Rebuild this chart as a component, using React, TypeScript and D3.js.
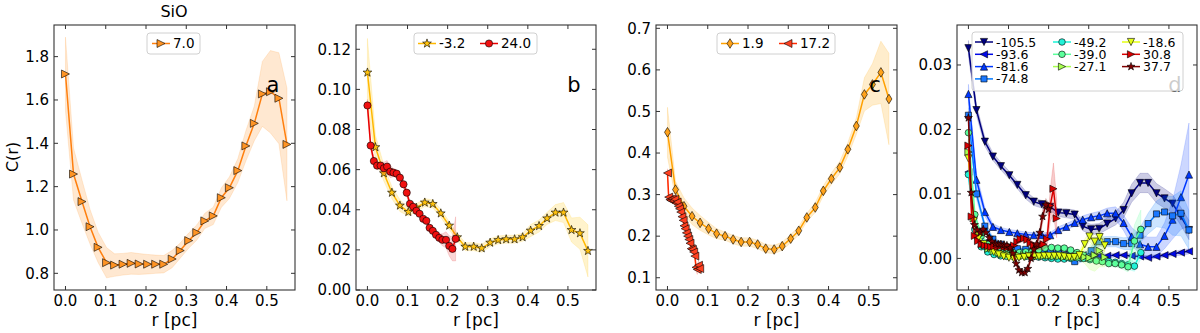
import React from 'react';
import * as d3 from 'd3';

// radius grids (pc)
const r055 = [0, 0.020, 0.041, 0.061, 0.081, 0.102, 0.122, 0.143, 0.163, 0.183, 0.204, 0.224, 0.244, 0.265, 0.285, 0.306, 0.326, 0.346, 0.367, 0.387, 0.407, 0.428, 0.448, 0.469, 0.489, 0.509, 0.530, 0.550];
const r043 = [0, 0.016, 0.032, 0.048, 0.064, 0.080, 0.096, 0.111, 0.127, 0.143, 0.159, 0.175, 0.191, 0.207, 0.223, 0.239, 0.255, 0.271, 0.287, 0.303, 0.319, 0.334, 0.350, 0.366, 0.382, 0.398, 0.414, 0.430];
const r034 = [0, 0.013, 0.025, 0.038, 0.050, 0.063, 0.076, 0.088, 0.101, 0.113, 0.126, 0.139, 0.151, 0.164, 0.176, 0.189, 0.201, 0.214, 0.227, 0.239, 0.252, 0.264, 0.277, 0.290, 0.302, 0.315, 0.327, 0.340];
const r022 = [0, 0.008, 0.016, 0.024, 0.033, 0.041, 0.049, 0.057, 0.065, 0.073, 0.081, 0.090, 0.098, 0.106, 0.114, 0.122, 0.130, 0.139, 0.147, 0.155, 0.163, 0.171, 0.179, 0.187, 0.196, 0.204, 0.212, 0.220];
const r020 = [0, 0.007, 0.015, 0.022, 0.030, 0.037, 0.044, 0.052, 0.059, 0.067, 0.074, 0.081, 0.089, 0.096, 0.104, 0.111, 0.119, 0.126, 0.133, 0.141, 0.148, 0.156, 0.163, 0.170, 0.178, 0.185, 0.193, 0.200];
const r008 = [0, 0.003, 0.006, 0.009, 0.012, 0.015, 0.018, 0.021, 0.024, 0.027, 0.030, 0.033, 0.036, 0.039, 0.041, 0.044, 0.047, 0.050, 0.053, 0.056, 0.059, 0.062, 0.065, 0.068, 0.071, 0.074, 0.077, 0.080];

// panel a: SiO 7.0
const a70 = [1.720, 1.258, 1.131, 1.015, 0.920, 0.849, 0.838, 0.842, 0.846, 0.843, 0.842, 0.842, 0.842, 0.866, 0.905, 0.951, 0.988, 1.042, 1.065, 1.149, 1.195, 1.274, 1.388, 1.492, 1.628, 1.638, 1.608, 1.395];
const a70err = [0.17, 0.12, 0.10, 0.08, 0.07, 0.07, 0.052, 0.05, 0.05, 0.048, 0.045, 0.042, 0.04, 0.04, 0.035, 0.035, 0.035, 0.035, 0.04, 0.045, 0.05, 0.055, 0.07, 0.08, 0.15, 0.19, 0.21, 0.26];

// panel b
const bM32 = [0.1084, 0.0712, 0.0582, 0.0485, 0.0421, 0.0389, 0.0410, 0.0436, 0.0429, 0.0382, 0.0321, 0.0263, 0.0216, 0.0216, 0.0208, 0.0236, 0.0249, 0.0253, 0.0253, 0.0263, 0.0296, 0.0319, 0.0357, 0.0386, 0.0386, 0.0299, 0.0283, 0.0195];
const bM32err = [0.017, 0.006, 0.004, 0.003, 0.003, 0.002, 0.002, 0.002, 0.002, 0.002, 0.002, 0.002, 0.002, 0.002, 0.002, 0.002, 0.002, 0.002, 0.002, 0.002, 0.003, 0.003, 0.003, 0.004, 0.005, 0.006, 0.008, 0.013];
const b240 = [0.092, 0.072, 0.0643, 0.062, 0.062, 0.0607, 0.0615, 0.059, 0.0585, 0.058, 0.056, 0.0527, 0.0485, 0.043, 0.0415, 0.0395, 0.038, 0.0355, 0.0345, 0.031, 0.0295, 0.0275, 0.026, 0.025, 0.025, 0.022, 0.0205, 0.0255];
const b240err = [0.003, 0.002, 0.002, 0.002, 0.002, 0.003, 0.003, 0.003, 0.002, 0.002, 0.002, 0.002, 0.002, 0.001, 0.001, 0.001, 0.001, 0.001, 0.001, 0.002, 0.002, 0.002, 0.002, 0.003, 0.004, 0.005, 0.006, 0.011];

// panel c
const c19 = [0.450, 0.312, 0.272, 0.248, 0.232, 0.218, 0.206, 0.200, 0.192, 0.186, 0.186, 0.180, 0.170, 0.168, 0.176, 0.194, 0.213, 0.245, 0.269, 0.309, 0.338, 0.365, 0.409, 0.465, 0.541, 0.565, 0.594, 0.530];
const c19err = [0.06, 0.02, 0.02, 0.02, 0.018, 0.015, 0.012, 0.01, 0.01, 0.01, 0.01, 0.01, 0.01, 0.01, 0.01, 0.01, 0.01, 0.01, 0.012, 0.012, 0.014, 0.015, 0.016, 0.02, 0.04, 0.05, 0.075, 0.11];
const c172 = [0.352, 0.294, 0.288, 0.286, 0.290, 0.285, 0.289, 0.280, 0.282, 0.272, 0.266, 0.258, 0.247, 0.238, 0.225, 0.218, 0.208, 0.200, 0.192, 0.183, 0.170, 0.168, 0.162, 0.152, 0.125, 0.120, 0.130, 0.122];
const c172err = [0.01, 0.008, 0.006, 0.006, 0.006, 0.006, 0.006, 0.006, 0.006, 0.006, 0.006, 0.006, 0.006, 0.006, 0.006, 0.006, 0.006, 0.006, 0.006, 0.007, 0.007, 0.008, 0.008, 0.009, 0.01, 0.012, 0.012, 0.012];

// panel d
const dN1055 = [0.0326, 0.0230, 0.0181, 0.0158, 0.0143, 0.0129, 0.0114, 0.0098, 0.0088, 0.0084, 0.0080, 0.0071, 0.0070, 0.0068, 0.0050, 0.0045, 0.0046, 0.0054, 0.0062, 0.0075, 0.0101, 0.0117, 0.0117, 0.0101, 0.0093, 0.0085, 0.0065, 0.0044];
const dN1055err = [0.0012, 0.0008, 0.0007, 0.0006, 0.0006, 0.0006, 0.0006, 0.0006, 0.0006, 0.0006, 0.0006, 0.0006, 0.0007, 0.0007, 0.0007, 0.0008, 0.0008, 0.0009, 0.0010, 0.0012, 0.0014, 0.0015, 0.0015, 0.0015, 0.0015, 0.0014, 0.0014, 0.0015];
const dN936 = [0.0134, 0.0040, 0.0025, 0.0018, 0.0014, 0.0012, 0.0011, 0.0010, 0.0010, 0.0011, 0.0010, 0.0009, 0.0008, 0.0006, 0.0005, 0.0004, 0.0004, 0.0004, 0.0005, 0.0005, 0.0004, 0.0003, 0.0001, 0.0003, 0.0005, 0.0007, 0.0009, 0.0011];
const dN936err = [0.0010, 0.0005, 0.0004, 0.0003, 0.0003, 0.0003, 0.0003, 0.0003, 0.0003, 0.0003, 0.0003, 0.0003, 0.0003, 0.0003, 0.0003, 0.0003, 0.0003, 0.0003, 0.0003, 0.0003, 0.0003, 0.0003, 0.0003, 0.0003, 0.0003, 0.0003, 0.0004, 0.0004];
const dN816 = [0.0255, 0.0122, 0.0072, 0.0049, 0.0044, 0.0041, 0.0039, 0.0037, 0.0036, 0.0036, 0.0036, 0.0044, 0.0049, 0.0055, 0.0060, 0.0064, 0.0066, 0.0070, 0.0070, 0.0055, 0.0034, 0.0022, 0.0018, 0.0018, 0.0035, 0.0060, 0.0095, 0.0130];
const dN816err = [0.0015, 0.0010, 0.0007, 0.0005, 0.0004, 0.0004, 0.0004, 0.0004, 0.0004, 0.0004, 0.0004, 0.0005, 0.0005, 0.0005, 0.0006, 0.0006, 0.0007, 0.0008, 0.0010, 0.0012, 0.0014, 0.0015, 0.0015, 0.0015, 0.0020, 0.0030, 0.0050, 0.0080];
const dN748 = [0.0222, 0.0100, 0.0050, 0.0030, 0.0022, 0.0017, 0.0015, 0.0014, 0.0013, 0.0012, 0.0010, 0.0008, 0.0005, -0.0005, 0.0000, 0.0012, 0.0026, 0.0026, 0.0026, 0.0023, 0.0023, 0.0036, 0.0054, 0.0069, 0.0072, 0.0066, 0.0070, 0.0044];
const dN748err = [0.0012, 0.0008, 0.0005, 0.0004, 0.0004, 0.0004, 0.0004, 0.0004, 0.0004, 0.0004, 0.0004, 0.0004, 0.0004, 0.0005, 0.0005, 0.0006, 0.0007, 0.0008, 0.0008, 0.0009, 0.0010, 0.0012, 0.0016, 0.0020, 0.0025, 0.0030, 0.0035, 0.0030];
const dN492 = [0.0130, 0.0045, 0.0018, 0.0010, 0.0006, 0.0004, 0.0003, 0.0003, 0.0003, 0.0003, 0.0002, 0.0002, 0.0001, 0.0000, -0.0001, -0.0001, 0.0000, 0.0001, 0.0000, -0.0002, -0.0003, -0.0004, -0.0005, -0.0006, -0.0008, -0.0010, -0.0012, 0.0009];
const dN492err = [0.0010, 0.0005, 0.0003, 0.0003, 0.0003, 0.0003, 0.0003, 0.0003, 0.0003, 0.0003, 0.0003, 0.0003, 0.0003, 0.0003, 0.0003, 0.0003, 0.0003, 0.0003, 0.0003, 0.0004, 0.0004, 0.0004, 0.0005, 0.0005, 0.0006, 0.0007, 0.0008, 0.0010];
const dN390 = [0.0195, 0.0068, 0.0035, 0.0022, 0.0016, 0.0012, 0.0010, 0.0009, 0.0009, 0.0010, 0.0011, 0.0013, 0.0016, 0.0017, 0.0016, 0.0016, 0.0013, 0.0009, 0.0005, 0.0000, -0.0004, -0.0005, -0.0008, -0.0008, -0.0010, -0.0013, 0.0027, 0.0045];
const dN390err = [0.0012, 0.0006, 0.0004, 0.0003, 0.0003, 0.0003, 0.0003, 0.0003, 0.0003, 0.0003, 0.0003, 0.0003, 0.0003, 0.0003, 0.0003, 0.0003, 0.0003, 0.0003, 0.0003, 0.0003, 0.0003, 0.0004, 0.0005, 0.0005, 0.0006, 0.0008, 0.0025, 0.0030];
const dN271 = [0.0165, 0.0062, 0.0035, 0.0022, 0.0015, 0.0011, 0.0009, 0.0007, 0.0006, 0.0006, 0.0005, 0.0005, 0.0005, 0.0005, 0.0004, 0.0004, 0.0004, 0.0003, 0.0003, 0.0002, 0.0002, 0.0002, 0.0003, 0.0002, 0.0001, 0.0005, 0.0012, 0.0002];
const dN271err = [0.0010, 0.0005, 0.0003, 0.0003, 0.0003, 0.0003, 0.0003, 0.0003, 0.0003, 0.0003, 0.0003, 0.0003, 0.0003, 0.0003, 0.0003, 0.0003, 0.0003, 0.0003, 0.0003, 0.0003, 0.0003, 0.0004, 0.0006, 0.0010, 0.0018, 0.0025, 0.0025, 0.0015];
const dN186 = [0.0155, 0.0058, 0.0032, 0.0022, 0.0015, 0.0010, 0.0006, 0.0003, 0.0001, 0.0000, 0.0001, 0.0002, 0.0003, 0.0003, 0.0003, 0.0004, 0.0004, 0.0004, 0.0004, 0.0003, 0.0002, 0.0002, 0.0005, 0.0022, 0.0034, 0.0026, 0.0033, 0.0020];
const dN186err = [0.0010, 0.0005, 0.0003, 0.0003, 0.0003, 0.0003, 0.0003, 0.0003, 0.0003, 0.0003, 0.0003, 0.0003, 0.0003, 0.0003, 0.0003, 0.0003, 0.0003, 0.0003, 0.0003, 0.0003, 0.0004, 0.0005, 0.0007, 0.0008, 0.0008, 0.0008, 0.0010, 0.0010];
const dP308 = [0.0175, 0.0065, 0.0035, 0.0027, 0.0022, 0.0020, 0.0019, 0.0018, 0.0019, 0.0018, 0.0019, 0.0018, 0.0017, 0.0018, 0.0020, 0.0026, 0.0030, 0.0031, 0.0029, 0.0024, 0.0020, 0.0018, 0.0020, 0.0022, 0.0030, 0.0082, 0.0108, 0.0062];
const dP308err = [0.0010, 0.0006, 0.0004, 0.0004, 0.0004, 0.0004, 0.0004, 0.0004, 0.0004, 0.0004, 0.0004, 0.0004, 0.0004, 0.0004, 0.0004, 0.0005, 0.0005, 0.0005, 0.0005, 0.0005, 0.0005, 0.0005, 0.0006, 0.0008, 0.0012, 0.0025, 0.0040, 0.0030];
const dP377 = [0.0218, 0.0102, 0.0052, 0.0044, 0.0040, 0.0045, 0.0040, 0.0032, 0.0026, 0.0023, 0.0022, 0.0022, 0.0021, 0.0020, 0.0016, 0.0008, -0.0008, -0.0018, -0.0022, -0.0022, -0.0016, 0.0000, 0.0014, 0.0022, 0.0040, 0.0065, 0.0083, 0.0076];
const dP377err = [0.0010, 0.0006, 0.0004, 0.0004, 0.0004, 0.0004, 0.0004, 0.0004, 0.0004, 0.0004, 0.0004, 0.0004, 0.0004, 0.0004, 0.0004, 0.0005, 0.0005, 0.0005, 0.0005, 0.0005, 0.0005, 0.0005, 0.0006, 0.0006, 0.0008, 0.0010, 0.0010, 0.0010];

const xTicks = [0, 0.1, 0.2, 0.3, 0.4, 0.5];
const X_DOMAIN: [number, number] = [-0.0285, 0.57];
const TOP = 25;
const BOTTOM = 290;
const FONT = 'DejaVu Sans';

type Series = {
  label: string; r: number[]; v: number[]; err: number[];
  line: string; face: string; band: string; marker: string; size: number;
};

function markerPath(kind: string, s: number): string {
  switch (kind) {
    case 'v': return `M0,${s}L${-s},${-s}L${s},${-s}Z`;
    case '^': return `M0,${-s}L${-s},${s}L${s},${s}Z`;
    case '<': return `M${-s},0L${s},${-s}L${s},${s}Z`;
    case '>': return `M${s},0L${-s},${-s}L${-s},${s}Z`;
    case 's': { const h = s * 0.85; return `M${-h},${-h}H${h}V${h}H${-h}Z`; }
    case 'o': return `M${s},0A${s},${s} 0 1,1 ${-s},0A${s},${s} 0 1,1 ${s},0Z`;
    case 'd': return `M0,${-s}L${s * 0.62},0L0,${s}L${-s * 0.62},0Z`;
    case '*': {
      let p = '';
      for (let k = 0; k < 10; k++) {
        const rad = k % 2 === 0 ? s : s * 0.4;
        const ang = -Math.PI / 2 + (k * Math.PI) / 5;
        p += (k === 0 ? 'M' : 'L') + (rad * Math.cos(ang)).toFixed(2) + ',' + (rad * Math.sin(ang)).toFixed(2);
      }
      return p + 'Z';
    }
    default: return '';
  }
}

const mk = (label: string, r: number[], v: number[], err: number[], line: string, face: string, band: string, marker: string, size: number): Series =>
  ({ label, r, v, err, line, face, band, marker, size });

const sA = [mk('7.0', r055, a70, a70err, '#ff7f0e', '#ff9424', '#ff8c1a', '>', 4)];
const sB = [
  mk('-3.2', r055, bM32, bM32err, '#ffb800', '#ffc20e', '#ffc400', '*', 4.6),
  mk('24.0', r022, b240, b240err, '#e80000', '#f01010', '#e83030', 'o', 3.6),
];
const sC = [
  mk('1.9', r055, c19, c19err, '#ffa000', '#ffa21a', '#ffa500', 'd', 4.8),
  mk('17.2', r008, c172, c172err, '#ff2a00', '#ff4020', '#ff4020', '<', 4),
];
const sD = [
  mk('-105.5', r055, dN1055, dN1055err, '#00007f', '#00007f', '#00007f', 'v', 3.6),
  mk('-93.6', r055, dN936, dN936err, '#0008e8', '#0008e8', '#0008e8', '<', 3.6),
  mk('-81.6', r055, dN816, dN816err, '#0038ff', '#0038ff', '#0038ff', '^', 3.6),
  mk('-74.8', r055, dN748, dN748err, '#0078ff', '#1a78ff', '#0078ff', 's', 3.6),
  mk('-49.2', r043, dN492, dN492err, '#1cf4d8', '#22f2d8', '#1cf4d8', 'o', 3.3),
  mk('-39.0', r043, dN390, dN390err, '#5cff9c', '#5cff9c', '#5cff9c', 'o', 3.3),
  mk('-27.1', r034, dN271, dN271err, '#a8ff50', '#a8ff50', '#a8ff50', '>', 3.6),
  mk('-18.6', r034, dN186, dN186err, '#e4ff14', '#e4ff14', '#e4ff14', 'v', 3.6),
  mk('30.8', r022, dP308, dP308err, '#d80000', '#d80000', '#d80000', '>', 3.6),
  mk('37.7', r020, dP377, dP377err, '#800000', '#800000', '#800000', '*', 4.2),
];

type LegendItem = { s: Series; x: number; y: number };
type PanelProps = {
  id: string; left: number; right: number; yDomain: [number, number]; yTicks: number[]; yFmt: string;
  series: Series[]; legendBox: [number, number, number, number]; legend: LegendItem[]; legendFont: number; letter: string;
};

function Panel({ id, left, right, yDomain, yTicks, yFmt, series, legendBox, legend, legendFont, letter }: PanelProps) {
  const x = d3.scaleLinear().domain(X_DOMAIN).range([left, right]);
  const y = d3.scaleLinear().domain(yDomain).range([BOTTOM, TOP]);
  const fmtX = d3.format('.1f');
  const fmtY = d3.format(yFmt);
  type P = { r: number; v: number; e: number };
  const area = d3.area<P>().x(d => x(d.r)).y0(d => y(d.v - d.e)).y1(d => y(d.v + d.e));
  const line = d3.line<P>().x(d => x(d.r)).y(d => y(d.v));
  const tl = 4;
  return (
    <g>
      <defs>
        <clipPath id={`clip-${id}`}>
          <rect x={left} y={TOP} width={right - left} height={BOTTOM - TOP} />
        </clipPath>
      </defs>
      <g clipPath={`url(#clip-${id})`}>
        {series.map(s => {
          const pts: P[] = s.r.map((r, i) => ({ r, v: s.v[i], e: s.err[i] }));
          return (
            <g key={s.label}>
              <path d={area(pts) || ''} fill={s.band} fillOpacity={0.2} stroke={s.band} strokeOpacity={0.2} strokeWidth={0.8} />
              <path d={line(pts) || ''} fill="none" stroke={s.line} strokeWidth={1.5} />
              {pts.map((p, i) => (
                <path key={i} transform={`translate(${x(p.r)},${y(p.v)})`} d={markerPath(s.marker, s.size)}
                  fill={s.face} stroke="#000" strokeWidth={0.6} />
              ))}
            </g>
          );
        })}
      </g>
      <text x={right - 22} y={92} fontFamily={FONT} fontSize={21} textAnchor="middle" fill="#000">{letter}</text>
      <rect x={legendBox[0]} y={legendBox[1]} width={legendBox[2]} height={legendBox[3]} rx={3}
        fill="#fff" fillOpacity={0.8} stroke="#d0d0d0" strokeWidth={1} />
      {legend.map(({ s, x: lx, y: ly }) => (
        <g key={s.label}>
          <line x1={lx} x2={lx + 18} y1={ly} y2={ly} stroke={s.line} strokeWidth={1.5} />
          <path transform={`translate(${lx + 9},${ly})`} d={markerPath(s.marker, s.size)} fill={s.face} stroke="#000" strokeWidth={0.6} />
          <text x={lx + 21} y={ly + legendFont * 0.36} fontFamily={FONT} fontSize={legendFont} fill="#000">{s.label}</text>
        </g>
      ))}
      <rect x={left} y={TOP} width={right - left} height={BOTTOM - TOP} fill="none" stroke="#333" strokeWidth={1.1} />
      {xTicks.map(t => (
        <g key={`x${t}`}>
          <line x1={x(t)} x2={x(t)} y1={BOTTOM} y2={BOTTOM - tl} stroke="#333" />
          <line x1={x(t)} x2={x(t)} y1={TOP} y2={TOP + tl} stroke="#333" />
          <text x={x(t)} y={BOTTOM + 16} fontFamily={FONT} fontSize={15} textAnchor="middle" fill="#000">{fmtX(t)}</text>
        </g>
      ))}
      {yTicks.map(t => (
        <g key={`y${t}`}>
          <line x1={left} x2={left + tl} y1={y(t)} y2={y(t)} stroke="#333" />
          <line x1={right} x2={right - tl} y1={y(t)} y2={y(t)} stroke="#333" />
          <text x={left - 5} y={y(t) + 5.3} fontFamily={FONT} fontSize={15} textAnchor="end" fill="#000">{fmtY(t)}</text>
        </g>
      ))}
      <text x={(left + right) / 2} y={326} fontFamily={FONT} fontSize={17} textAnchor="middle" fill="#000">r [pc]</text>
    </g>
  );
}

export default function App() {
  const dRows = [42, 54.3, 66.6, 78.9];
  return (
    <svg width={1200} height={333} style={{ position: 'absolute', left: 0, top: 0, background: '#fff' }}>
      <rect width={1200} height={333} fill="#fff" />
      <text x={174} y={17} fontFamily={FONT} fontSize={16} textAnchor="middle" fill="#000">SiO</text>
      <text transform="translate(18,157) rotate(-90)" fontFamily={FONT} fontSize={16} textAnchor="middle" fill="#000">C(r)</text>
      <Panel id="a" left={54} right={295} yDomain={[0.723, 1.946]} yTicks={[0.8, 1.0, 1.2, 1.4, 1.6, 1.8]} yFmt=".1f"
        series={sA} legendBox={[147, 33, 53, 21]} legend={[{ s: sA[0], x: 152, y: 43.5 }]} legendFont={13.5} letter="a" />
      <Panel id="b" left={356} right={596} yDomain={[0, 0.1321]} yTicks={[0, 0.02, 0.04, 0.06, 0.08, 0.10, 0.12]} yFmt=".2f"
        series={sB} legendBox={[414, 33, 123, 21]} legend={[{ s: sB[0], x: 418, y: 43.5 }, { s: sB[1], x: 480, y: 43.5 }]} legendFont={13.5} letter="b" />
      <Panel id="c" left={656} right={897} yDomain={[0.0705, 0.708]} yTicks={[0.1, 0.2, 0.3, 0.4, 0.5, 0.6, 0.7]} yFmt=".1f"
        series={sC} legendBox={[717, 33, 118, 21]} legend={[{ s: sC[0], x: 721, y: 43.5 }, { s: sC[1], x: 779, y: 43.5 }]} legendFont={13.5} letter="c" />
      <Panel id="d" left={957} right={1197} yDomain={[-0.0049, 0.0362]} yTicks={[0, 0.01, 0.02, 0.03]} yFmt=".2f"
        series={sD} legendBox={[972, 32, 211, 59]} legendFont={12.5}
        legend={[
          { s: sD[0], x: 975, y: dRows[0] }, { s: sD[1], x: 975, y: dRows[1] }, { s: sD[2], x: 975, y: dRows[2] }, { s: sD[3], x: 975, y: dRows[3] },
          { s: sD[4], x: 1053, y: dRows[0] }, { s: sD[5], x: 1053, y: dRows[1] }, { s: sD[6], x: 1053, y: dRows[2] },
          { s: sD[7], x: 1122, y: dRows[0] }, { s: sD[8], x: 1122, y: dRows[1] }, { s: sD[9], x: 1122, y: dRows[2] },
        ]} letter="d" />
    </svg>
  );
}
